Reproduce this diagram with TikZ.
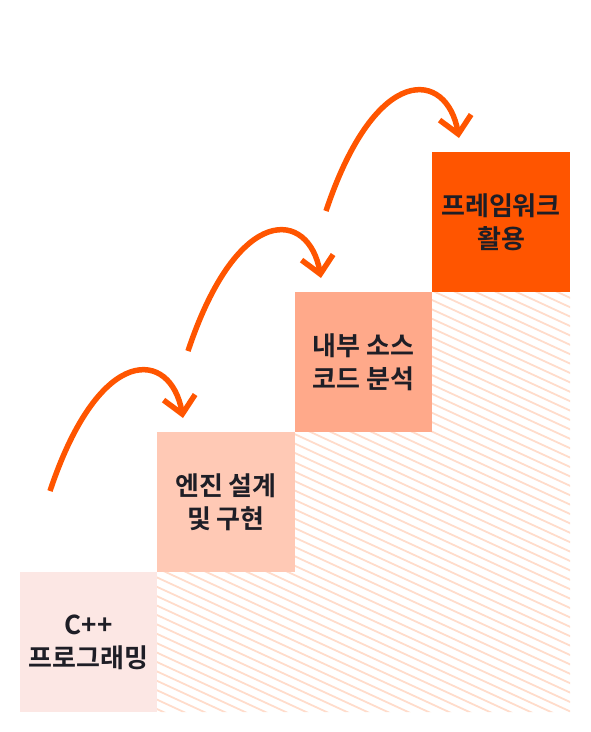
\documentclass[tikz,border=0pt]{standalone}
\usepackage{fontspec}
\setmainfont{Noto Sans CJK KR}[BoldFont={Noto Sans CJK KR Bold}]
\usetikzlibrary{arrows.meta,calc}
\definecolor{boxA}{HTML}{FCE7E4}
\definecolor{boxB}{HTML}{FFC9B5}
\definecolor{boxC}{HTML}{FFA98A}
\definecolor{boxD}{HTML}{FF5500}
\definecolor{arr}{HTML}{FF5500}
\definecolor{hatch}{HTML}{FFDCCB}
\definecolor{txt}{HTML}{1E1E26}
\tikzset{
  stepbox/.style={minimum width=137.5pt, minimum height=140pt, inner sep=0pt, outer sep=0pt,
    text=txt, align=center, font=\fontsize{26}{33}\selectfont\bfseries},
  curvearrow/.style={draw=arr, line width=5.5pt, -{Straight Barb[length=17pt, width=32pt, line width=5.5pt]}}
}
\begin{document}
\begin{tikzpicture}[x=1pt,y=-1pt]
\useasboundingbox (0,0) rectangle (590,732);
% hatched area
\begin{scope}
\clip (157,572) -- (157,712) -- (570,712) -- (570,292) -- (432,292) -- (432,432) -- (295,432) -- (295,572) -- cycle;
\foreach \k in {-30,...,70} {
  \draw[hatch, line width=1.8pt] (140,{250+\k*9.4}) -- (600,{250+\k*9.4+212});
}
\end{scope}
\node[stepbox, fill=boxA] (s1) at (88.5,642) {C++\\프로그래밍};
\node[stepbox, fill=boxB] (s2) at (226,502) {엔진 설계\\및 구현};
\node[stepbox, fill=boxC] (s3) at (363.5,362) {내부 소스\\코드 분석};
\node[stepbox, fill=boxD] (s4) at (501,222) {프레임워크\\활용};
% arrows
\coordinate (a1s) at (50,491);
\coordinate (a1e) at (183,418);
\coordinate (a2s) at (188,351);
\coordinate (a2e) at (321,278);
\coordinate (a3s) at (326,211);
\coordinate (a3e) at (459,138);
\draw[curvearrow] (a1s) .. controls ($(a1s)+(50,-150)$) and ($(a1e)+(-12,-68)$) .. (a1e);
\draw[curvearrow] (a2s) .. controls ($(a2s)+(50,-150)$) and ($(a2e)+(-12,-68)$) .. (a2e);
\draw[curvearrow] (a3s) .. controls ($(a3s)+(50,-150)$) and ($(a3e)+(-12,-68)$) .. (a3e);
\end{tikzpicture}
\end{document}
